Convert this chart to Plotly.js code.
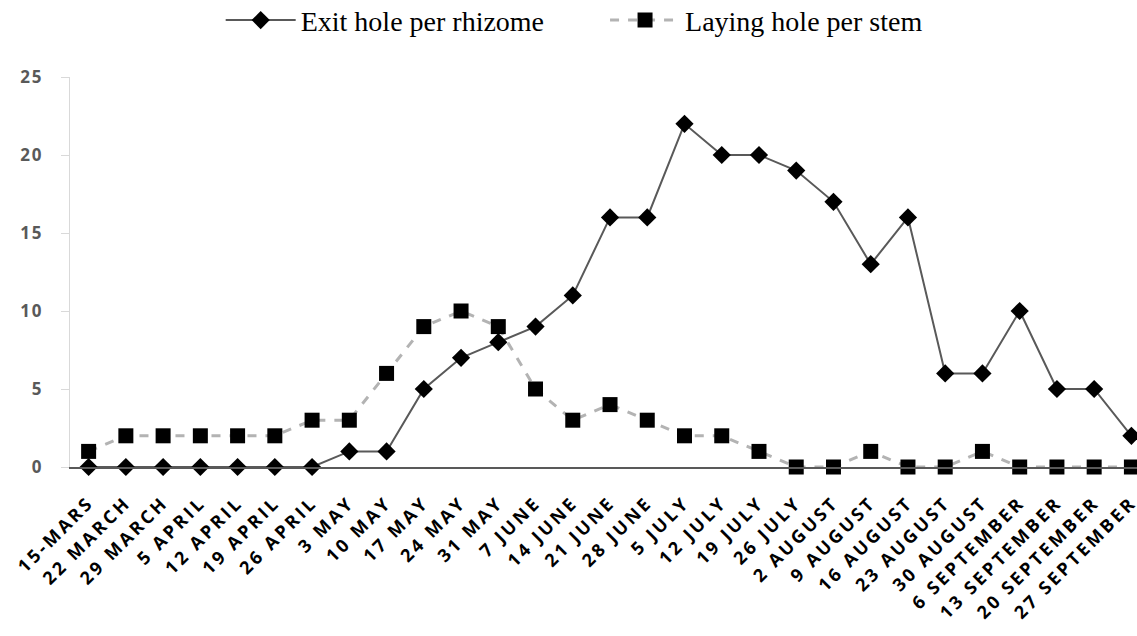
<!DOCTYPE html>
<html>
<head>
<meta charset="utf-8">
<script src="https://cdn.plot.ly/plotly-3.0.1.min.js"></script>
<style>
html,body{margin:0;padding:0;background:#fff}
#chart{width:1137px;height:636px}
#chart .xtick text{letter-spacing:3px}
#chart .ytick text{letter-spacing:2px}
</style>
</head>
<body>
<div id="chart"></div>
<script>
const categories = ["15-MARS","22 MARCH","29 MARCH","5 APRIL","12 APRIL","19 APRIL","26 APRIL","3 MAY","10 MAY","17 MAY","24 MAY","31 MAY","7 JUNE","14 JUNE","21 JUNE","28 JUNE","5 JULY","12 JULY","19 JULY","26 JULY","2 AUGUST","9 AUGUST","16 AUGUST","23 AUGUST","30 AUGUST","6 SEPTEMBER","13 SEPTEMBER","20 SEPTEMBER","27 SEPTEMBER"];
const exitHole = [0,0,0,0,0,0,0,1,1,5,7,8,9,11,16,16,22,20,20,19,17,13,16,6,6,10,5,5,2];
const layingHole = [1,2,2,2,2,2,3,3,6,9,10,9,5,3,4,3,2,2,1,0,0,1,0,0,1,0,0,0,0];
const yTicks = [0,5,10,15,20,25];
const pad = "\u00a0".repeat(8);

const traces = [
  {
    x: categories, y: layingHole, name: "Laying hole per stem",
    type: "scatter", mode: "lines+markers", cliponaxis: false,
    line: {color: "#b3b3b3", width: 3, dash: "dash"},
    marker: {symbol: "square", size: 15, color: "#000"},
    legendrank: 2
  },
  {
    x: categories, y: exitHole, name: "Exit hole per rhizome" + pad,
    type: "scatter", mode: "lines+markers", cliponaxis: false,
    line: {color: "#595959", width: 2},
    marker: {symbol: "diamond", size: 14, color: "#000"},
    legendrank: 1
  }
];

const layout = {
  width: 1137, height: 636,
  margin: {l: 70, r: 0, t: 77, b: 169},
  paper_bgcolor: "#fff", plot_bgcolor: "#fff",
  showlegend: true,
  legend: {
    orientation: "h", x: 0.505, xanchor: "center", xref: "container",
    y: 0.968, yanchor: "middle", yref: "container",
    font: {family: "Liberation Serif", size: 28, color: "#000"},
    itemwidth: 70,
    traceorder: "normal"
  },
  xaxis: {
    type: "category", range: [-0.5, 28.15],
    showgrid: false, zeroline: false,
    showline: true, linecolor: "#595959", linewidth: 2,
    ticks: "", tickangle: -45, ticklabelstandoff: 16,
    tickfont: {family: "Open Sans", size: 18, color: "#000", weight: "bold"}
  },
  yaxis: {
    range: [0, 25], tickvals: yTicks,
    showgrid: false, zeroline: false,
    showline: true, linecolor: "#d9d9d9", linewidth: 1,
    ticks: "outside", ticklen: 8, tickcolor: "#d9d9d9",
    ticklabelstandoff: 14,
    tickfont: {family: "Open Sans", size: 17, color: "#595959", weight: "bold"}
  }
};

Plotly.newPlot("chart", traces, layout, {displayModeBar: false, staticPlot: true});
</script>
</body>
</html>
